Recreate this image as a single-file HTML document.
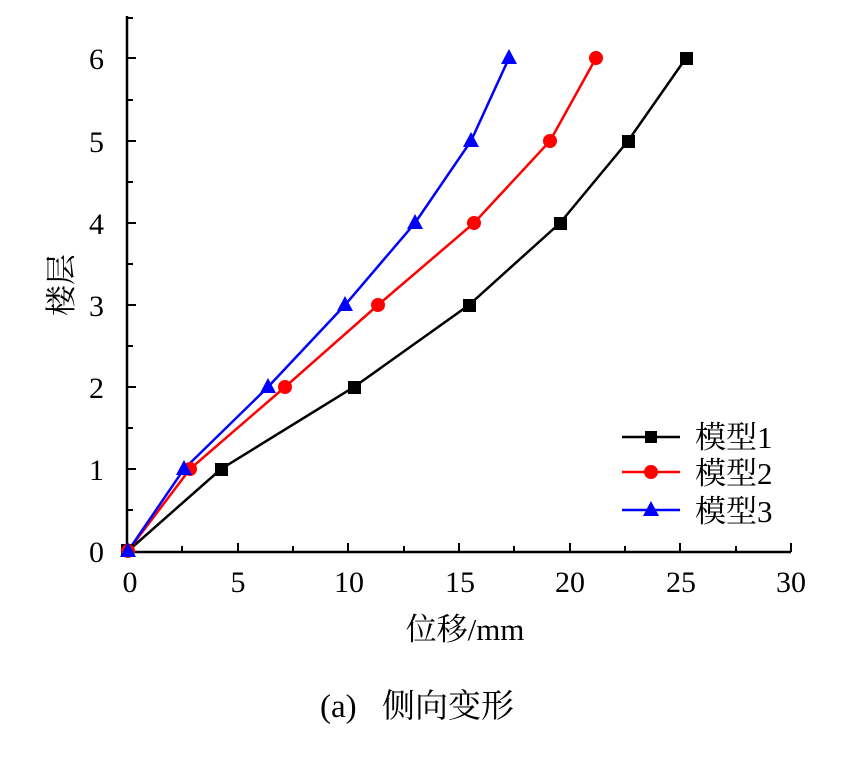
<!DOCTYPE html>
<html><head><meta charset="utf-8"><style>
html,body{margin:0;padding:0;background:#fff;}
svg text{font-family:"Liberation Serif","Noto Serif CJK SC",serif;fill:#000;}
</style></head><body>
<svg width="842" height="753" viewBox="0 0 842 753" xmlns="http://www.w3.org/2000/svg">
<g stroke="#000" stroke-width="2.5" fill="none">
<line x1="127" y1="16" x2="127" y2="552"/>
<line x1="126" y1="552" x2="791" y2="552"/>
</g>
<g stroke="#000" stroke-width="2">
<line x1="127" y1="552" x2="127" y2="543"/>
<line x1="238" y1="552" x2="238" y2="543"/>
<line x1="348" y1="552" x2="348" y2="543"/>
<line x1="459" y1="552" x2="459" y2="543"/>
<line x1="570" y1="552" x2="570" y2="543"/>
<line x1="680" y1="552" x2="680" y2="543"/>
<line x1="791" y1="552" x2="791" y2="543"/>
<line x1="182" y1="552" x2="182" y2="546"/>
<line x1="293" y1="552" x2="293" y2="546"/>
<line x1="404" y1="552" x2="404" y2="546"/>
<line x1="514" y1="552" x2="514" y2="546"/>
<line x1="625" y1="552" x2="625" y2="546"/>
<line x1="736" y1="552" x2="736" y2="546"/>
<line x1="127" y1="469" x2="136" y2="469"/>
<line x1="127" y1="387" x2="136" y2="387"/>
<line x1="127" y1="305" x2="136" y2="305"/>
<line x1="127" y1="223" x2="136" y2="223"/>
<line x1="127" y1="141" x2="136" y2="141"/>
<line x1="127" y1="58" x2="136" y2="58"/>
<line x1="127" y1="510" x2="133" y2="510"/>
<line x1="127" y1="428" x2="133" y2="428"/>
<line x1="127" y1="346" x2="133" y2="346"/>
<line x1="127" y1="264" x2="133" y2="264"/>
<line x1="127" y1="182" x2="133" y2="182"/>
<line x1="127" y1="100" x2="133" y2="100"/>
<line x1="127" y1="18" x2="133" y2="18"/>
</g>
<g font-size="30" text-anchor="end">
<text x="104" y="562">0</text>
<text x="104" y="480">1</text>
<text x="104" y="398">2</text>
<text x="104" y="316">3</text>
<text x="104" y="234">4</text>
<text x="104" y="152">5</text>
<text x="104" y="69">6</text>
</g>
<g font-size="30" text-anchor="middle">
<text x="130" y="592">0</text>
<text x="238" y="592">5</text>
<text x="349" y="592">10</text>
<text x="460" y="592">15</text>
<text x="570" y="592">20</text>
<text x="681" y="592">25</text>
<text x="791" y="592">30</text>
</g>
<text x="465" y="640" font-size="31" text-anchor="middle">位移/mm</text>
<text transform="translate(72,285) rotate(-90)" font-size="31" text-anchor="middle">楼层</text>
<text x="320" y="717" font-size="33">(a)</text>
<text x="382" y="717" font-size="33">侧向变形</text>

<polyline fill="none" stroke="#000" stroke-width="2.5" points="128,551 221,469 354,387 469,305 560,223 628,141 686,58"/>
<polyline fill="none" stroke="#f00" stroke-width="2.5" points="128,551 190,469 285,387 378,305 474,223 550,141 596,58"/>
<polyline fill="none" stroke="#00f" stroke-width="2.5" points="128,551 184,469 268,387 345,305 415,223 471,141 509,58"/>
<g fill="#000">
<rect x="121" y="544" width="13" height="13"/>
<rect x="215" y="463" width="13" height="13"/>
<rect x="348" y="381" width="13" height="13"/>
<rect x="463" y="299" width="13" height="13"/>
<rect x="554" y="217" width="13" height="13"/>
<rect x="622" y="135" width="13" height="13"/>
<rect x="680" y="52" width="13" height="13"/>
</g>
<g fill="#f00">
<circle cx="128" cy="551" r="7"/>
<circle cx="190" cy="469" r="7"/>
<circle cx="285" cy="387" r="7"/>
<circle cx="378" cy="305" r="7"/>
<circle cx="474" cy="223" r="7"/>
<circle cx="550" cy="141" r="7"/>
<circle cx="596" cy="58" r="7"/>
</g>
<g fill="#00f">
<polygon points="128,542 120,557 136,557"/>
<polygon points="184,460 176,475 192,475"/>
<polygon points="268,378 260,393 276,393"/>
<polygon points="345,296 337,311 353,311"/>
<polygon points="415,214 407,229 423,229"/>
<polygon points="471,132 463,147 479,147"/>
<polygon points="509,49 501,64 517,64"/>
</g>
<line x1="622" y1="437" x2="680" y2="437" stroke="#000" stroke-width="2.5"/>
<rect x="645" y="431" width="12" height="12" fill="#000"/>
<line x1="622" y1="472" x2="680" y2="472" stroke="#f00" stroke-width="2.5"/>
<circle cx="651" cy="472" r="7" fill="#f00"/>
<line x1="622" y1="510" x2="680" y2="510" stroke="#00f" stroke-width="2.5"/>
<polygon points="651,501 643,516 659,516" fill="#00f"/>
<g font-size="31">
<text x="695" y="448">模型1</text>
<text x="695" y="484">模型2</text>
<text x="695" y="522">模型3</text>
</g>
</svg>
</body></html>
